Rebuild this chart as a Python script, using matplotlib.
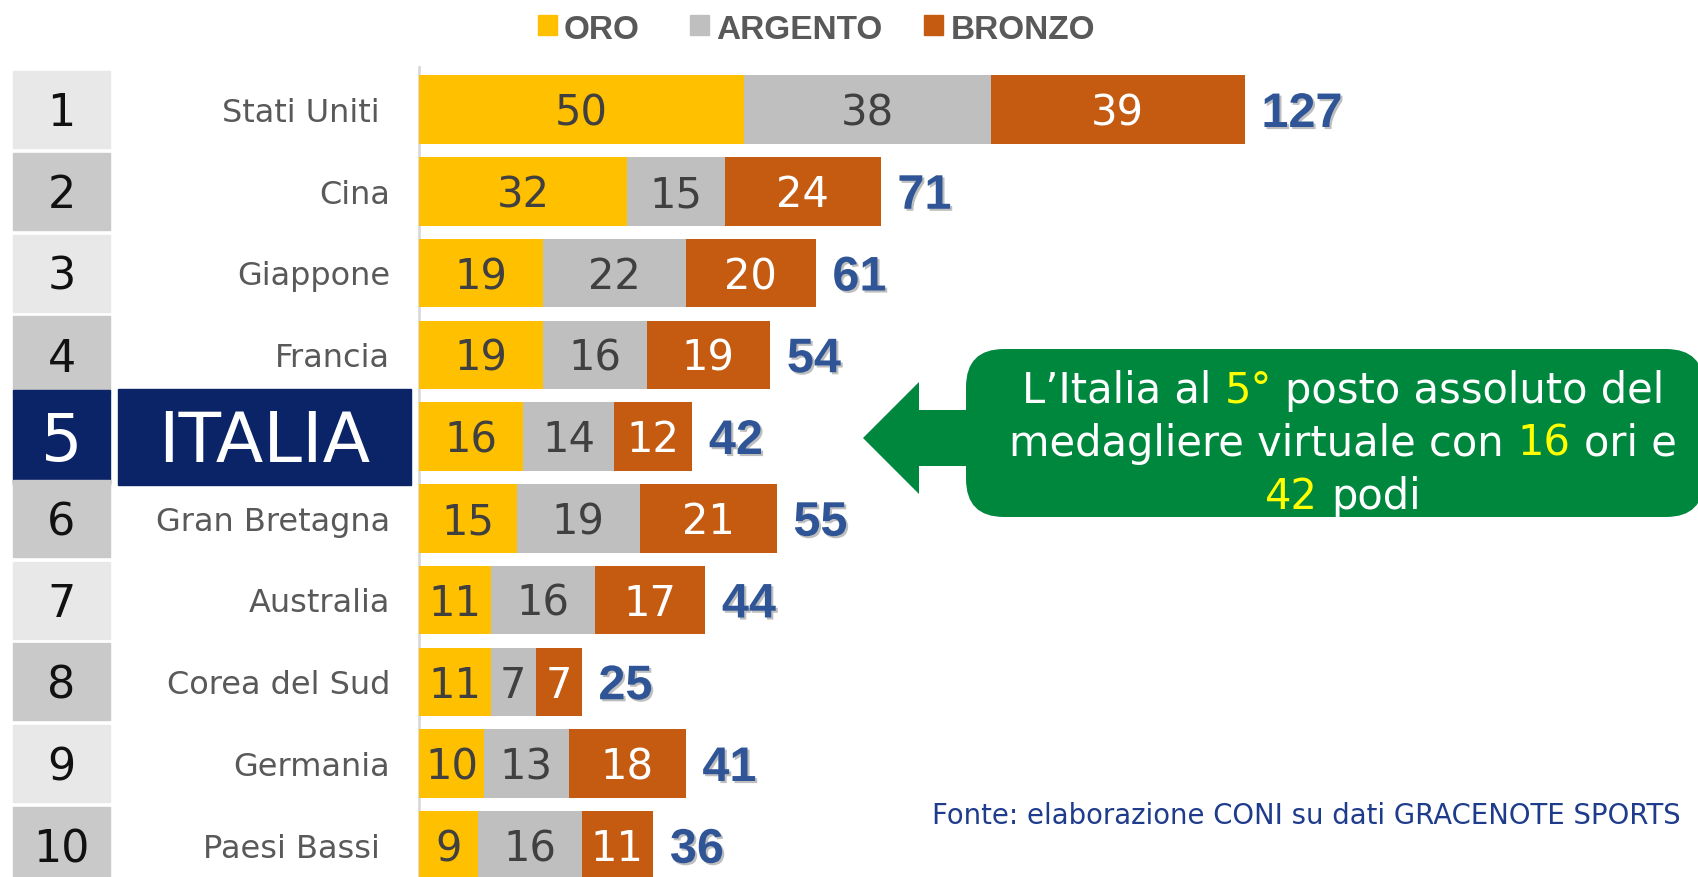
import matplotlib
matplotlib.use("Agg")
import matplotlib.pyplot as plt
from matplotlib import font_manager, transforms
from matplotlib.patches import Rectangle, FancyBboxPatch, Polygon
import matplotlib.patheffects as pe

# ---------------- data ----------------
countries = ["Stati Uniti ", "Cina", "Giappone", "Francia", "ITALIA",
             "Gran Bretagna", "Australia", "Corea del Sud", "Germania", "Paesi Bassi "]
ranks = [1, 2, 3, 4, 5, 6, 7, 8, 9, 10]
oro = [50, 32, 19, 19, 16, 15, 11, 11, 10, 9]
argento = [38, 15, 22, 16, 14, 19, 16, 7, 13, 16]
bronzo = [39, 24, 20, 19, 12, 21, 17, 7, 18, 11]
totali = [127, 71, 61, 54, 42, 55, 44, 25, 41, 36]
highlight = "ITALIA"
legend_labels = ["ORO", "ARGENTO", "BRONZO"]
callout_lines = [
    [("L’Italia al ", "w"), ("5°", "y"), (" posto assoluto del", "w")],
    [("medagliere virtuale con ", "w"), ("16", "y"), (" ori e", "w")],
    [("42", "y"), (" podi", "w")],
]
source = "Fonte: elaborazione CONI su dati GRACENOTE SPORTS"

# ---------------- style ----------------
C_ORO, C_ARG, C_BRO = "#FFC000", "#BFBFBF", "#C55A11"
NAVY = "#0B2468"
BLUE = "#2F5597"
GREEN = "#00873E"
YELLOW = "#FFFF00"

names = {f.name for f in font_manager.fontManager.ttflist}
NARROW = "Liberation Sans Narrow" if "Liberation Sans Narrow" in names else "Liberation Sans"
BASE = "DejaVu Sans"

W, H = 1698, 878
fig = plt.figure(figsize=(W / 100, H / 100), dpi=100)

x0_px = 419
px_per_unit = 6.5
row0_px = 110.5
row_px = 81.75

ax = fig.add_axes([x0_px / W, 0, 1 - x0_px / W, 1])
ax.axis("off")

n = len(countries)
ypos = list(range(n))
bh = 68.5 / row_px

lefts2 = oro
lefts3 = [a + b for a, b in zip(oro, argento)]
ax.barh(ypos, oro, height=bh, color=C_ORO, zorder=2)
ax.barh(ypos, argento, left=lefts2, height=bh, color=C_ARG, zorder=2)
ax.barh(ypos, bronzo, left=lefts3, height=bh, color=C_BRO, zorder=2)


def base_tr(trans, fs):
    return transforms.offset_copy(trans, fig=fig, x=0, y=-0.36 * fs, units="points")


fs_val = 30
fs_tot = 35
for i in range(n):
    for left, v, col in ((0, oro[i], "#404040"), (lefts2[i], argento[i], "#404040"),
                         (lefts3[i], bronzo[i], "white")):
        ax.text(left + v / 2, i, str(v), ha="center", va="baseline", fontsize=fs_val,
                family=BASE, color=col, zorder=3,
                transform=base_tr(ax.transData, fs_val))
    ax.text(totali[i] + 2.6, i, str(totali[i]), ha="left", va="baseline", fontsize=fs_tot,
            family=NARROW, fontweight="bold", color=BLUE, zorder=3,
            transform=base_tr(ax.transData, fs_tot),
            path_effects=[pe.withSimplePatchShadow(offset=(1.5, -1.5),
                                                   shadow_rgbFace="#7f7f7f", alpha=0.5)])

# rank boxes and country names (rows follow the bar axis' y scale)
bt = transforms.blended_transform_factory(fig.transFigure, ax.transData)
for i, (r, c) in enumerate(zip(ranks, countries)):
    if c == highlight:
        hh = 94 / row_px
        ax.add_patch(Rectangle((13 / W, i - hh / 2), 97 / W, hh, transform=bt,
                               color=NAVY, clip_on=False, zorder=2))
        hi = 96 / row_px
        ax.add_patch(Rectangle((118 / W, i - hi / 2), 293 / W, hi, transform=bt,
                               color=NAVY, clip_on=False, zorder=2))
        ax.text(61.5 / W, i, str(r), ha="center", va="baseline", fontsize=47,
                family=BASE, color="white", transform=base_tr(bt, 47), zorder=3)
        ax.text(264 / W, i, c, ha="center", va="baseline", fontsize=50,
                family=BASE, color="white", transform=base_tr(bt, 50), zorder=3)
    else:
        hh = 77 / row_px
        col = "#E8E8E8" if r % 2 == 1 else "#C9C9C9"
        ax.add_patch(Rectangle((13 / W, i - hh / 2), 97 / W, hh, transform=bt,
                               color=col, clip_on=False, zorder=2))
        ax.text(61.5 / W, i, str(r), ha="center", va="baseline", fontsize=32,
                family=BASE, color="#111111", transform=base_tr(bt, 32), zorder=3)
        ax.text(390 / W, i, c, ha="right", va="baseline", fontsize=23,
                family=BASE, color="#595959", transform=base_tr(bt, 23), zorder=3)

ax.axvline(0, 0, 1 - 68 / H, color="#D9D9D9", lw=2, clip_on=False, zorder=1)

ax.set_xlim(0, (W - x0_px) / px_per_unit)
ax.set_ylim((H - row0_px) / row_px, -row0_px / row_px)

# ---------------- overlay (legend, callout, source) ----------------
ov = fig.add_axes([0, 0, 1, 1], zorder=5)
ov.set_xlim(0, W)
ov.set_ylim(H, 0)
ov.axis("off")
ov.patch.set_alpha(0)

for lab, col, sx, tx in zip(legend_labels, [C_ORO, C_ARG, C_BRO],
                            [538, 690, 924], [564, 716, 951]):
    ov.add_patch(Rectangle((sx, 16), 19, 20, color=col))
    ov.text(tx, 39, lab, ha="left", va="baseline", fontsize=24, family=NARROW,
            fontweight="bold", color="#595959")

# callout
ov.add_patch(FancyBboxPatch((966, 350), 738, 168,
                            boxstyle="round,pad=0,rounding_size=38",
                            color=GREEN, lw=0))
ov.add_patch(Polygon([(975, 411), (919, 411), (919, 383), (863, 439),
                      (919, 495), (919, 467), (975, 467)], closed=True,
                     color=GREEN, lw=0))

fs_c = 30
renderer = fig.canvas.get_renderer()


def tw(s):
    t = ov.text(0, 0, s, fontsize=fs_c, family=BASE)
    w = t.get_window_extent(renderer).width
    t.remove()
    return w


cx = 1343
baselines = [403, 456, 509]
for line, by in zip(callout_lines, baselines):
    full = "".join(s for s, _ in line)
    total = tw(full)
    start = cx - total / 2
    acc = ""
    for s, cc in line:
        acc += s
        st = s.strip()
        xs = start + tw(acc.rstrip()) - tw(st)
        ov.text(xs, by, st, ha="left", va="baseline", fontsize=fs_c, family=BASE,
                color=YELLOW if cc == "y" else "white")

ov.text(932, 824, source, ha="left", va="baseline", fontsize=19.8, family=BASE,
        color="#1F3C8C")

fig.savefig("out.png", dpi=100)
